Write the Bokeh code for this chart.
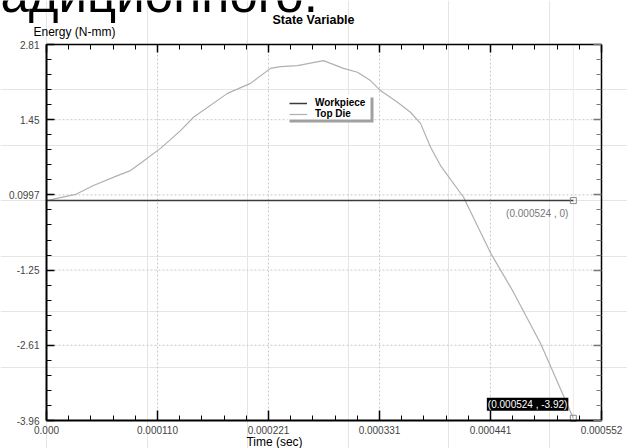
from bokeh.plotting import figure
from bokeh.models import (Range1d, LinearAxis, FixedTicker, Label, Legend,
                          LegendItem, BoxAnnotation)
from bokeh.embed import file_html
from bokeh.resources import INLINE

# ---------------- data ----------------
top_die_t = [0.0, 2.88e-5, 4.67e-5, 7.06e-5, 8.35e-5, 9.35e-5, 1.134e-4,
             1.333e-4, 1.462e-4, 1.80e-4, 2.029e-4, 2.228e-4, 2.327e-4,
             2.496e-4, 2.755e-4, 2.954e-4, 3.093e-4, 3.222e-4, 3.322e-4,
             3.491e-4, 3.62e-4, 3.72e-4, 3.82e-4, 3.919e-4, 4.148e-4,
             4.416e-4, 4.635e-4, 4.913e-4, 5.24e-4]
top_die_e = [0.0, 0.11, 0.27, 0.45, 0.54, 0.67, 0.94,
             1.26, 1.50, 1.93, 2.11, 2.38, 2.41,
             2.43, 2.52, 2.38, 2.31, 2.16, 1.98,
             1.77, 1.59, 1.39, 0.96, 0.63, 0.06,
             -0.94, -1.62, -2.57, -3.92]
workpiece_t = [0.0, 0.000524]
workpiece_e = [0.0, 0.0]
marker_t = [0.000524, 0.000524]
marker_e = [0.0, -3.92]
marker_text = ["(0.000524 , 0)", "(0.000524 , -3.92)"]

x_ticks = [0.0, 0.0001104, 0.0002208, 0.0003312, 0.0004416, 0.000552]
x_tick_labels = ["0.000", "0.000110", "0.000221", "0.000331", "0.000441", "0.000552"]
y_ticks = [2.81, 1.456, 0.102, -1.252, -2.606, -3.96]
y_tick_labels = ["2.81", "1.45", "0.0997", "-1.25", "-2.61", "-3.96"]

title_text = "State Variable"
y_title = "Energy (N-mm)"
x_title = "Time (sec)"
page_text = "адиционного."

# ---------------- layout ----------------
W, H = 627, 448
L, R, T, B = 46, 26, 44, 28          # plot-area edges inside the canvas
X0, X1 = 0.0, 0.000552
Y0, Y1 = -3.96, 2.81
FONT = "Liberation Sans"


def tx(px):
    return X0 + (px - L) / (W - L - R) * (X1 - X0)


def ey(py):
    return Y1 - (py - T) / (H - T - B) * (Y1 - Y0)


def minor(ticks, n=5):
    t = sorted(ticks)
    out = []
    for a, b in zip(t[:-1], t[1:]):
        for k in range(1, n):
            out.append(a + (b - a) * k / n)
    return out


p = figure(width=W, height=H, x_range=Range1d(tx(0), tx(W)),
           y_range=Range1d(ey(H), ey(0)),
           output_backend="svg", toolbar_location=None,
           x_axis_location=None, y_axis_location=None,
           min_border=0, min_border_left=0, min_border_right=0,
           min_border_top=0, min_border_bottom=0)
p.outline_line_color = None
p.background_fill_color = "white"
p.border_fill_color = "white"

xt = FixedTicker(ticks=x_ticks, minor_ticks=minor(x_ticks))
yt = FixedTicker(ticks=y_ticks, minor_ticks=minor(y_ticks))


def style_axis(ax, width, color, standoff):
    ax.axis_line_width = width
    ax.axis_line_color = color
    ax.major_tick_in = 8
    ax.major_tick_out = 0
    ax.minor_tick_in = 5
    ax.minor_tick_out = 0
    ax.major_tick_line_color = color
    ax.minor_tick_line_color = color
    ax.major_tick_line_width = 1.5
    ax.minor_tick_line_width = 1
    ax.major_label_standoff = standoff
    ax.major_label_text_font = FONT
    ax.major_label_text_font_size = "10px"
    ax.major_label_text_color = "#444444"


# plot-area grid (dashed), drawn from the tick arrays
p.segment(x0=x_ticks, y0=[Y0] * len(x_ticks), x1=x_ticks, y1=[Y1] * len(x_ticks),
          line_color="#c8c8c8", line_dash="2 2", line_width=1)
p.segment(x0=[X0] * len(y_ticks), y0=y_ticks, x1=[X1] * len(y_ticks), y1=y_ticks,
          line_color="#c8c8c8", line_dash="2 2", line_width=1)
p.segment(x0=[marker_t[0]], y0=[Y0], x1=[marker_t[0]], y1=[Y1],
          line_color="#ececec", line_width=1)

bottom = LinearAxis(ticker=xt, fixed_location=Y0, bounds=(X0, X1),
                    major_label_overrides=dict(zip(x_ticks, x_tick_labels)))
style_axis(bottom, 2, "black", 5)
bottom.major_tick_in = 10
left = LinearAxis(ticker=yt, fixed_location=X0, bounds=(Y0, Y1),
                  major_label_overrides=dict(zip(y_ticks, y_tick_labels)))
style_axis(left, 2, "black", 7)
top = LinearAxis(ticker=xt, fixed_location=Y1, bounds=(X0, X1),
                 major_label_overrides={t: "" for t in x_ticks})
style_axis(top, 1.5, "black", 0)
right = LinearAxis(ticker=yt, fixed_location=X1, bounds=(Y0, Y1),
                   major_label_overrides={t: "" for t in y_ticks})
style_axis(right, 1.5, "black", 0)
right.major_tick_line_color = "#777777"
right.minor_tick_line_color = "#777777"
p.add_layout(bottom, "below")
p.add_layout(left, "left")
p.add_layout(top, "above")
p.add_layout(right, "right")

r_td = p.line(top_die_t, top_die_e, line_color="#b0b0b0", line_width=1.2)
r_wp = p.line(workpiece_t, workpiece_e, line_color="#3a3a3a", line_width=1.5)
p.scatter(marker_t, marker_e, marker="square", size=6, line_color="#8a8a8a",
          fill_color=None, line_width=1)

# legend box with drop shadow
p.add_layout(BoxAnnotation(left=tx(289), right=tx(373), top=ey(97), bottom=ey(122),
                           fill_color="#a0a0a0", fill_alpha=1, line_color=None))
p.add_layout(BoxAnnotation(left=tx(286), right=tx(370), top=ey(94), bottom=ey(119),
                           fill_color="white", fill_alpha=1, line_color=None))
legend = Legend(items=[LegendItem(label="Workpiece", renderers=[r_wp]),
                       LegendItem(label="Top Die", renderers=[r_td])],
                location=(289, H - 119), padding=3, margin=0, spacing=0,
                label_height=10, glyph_height=10, glyph_width=18,
                label_standoff=8, border_line_color=None,
                background_fill_color="white", background_fill_alpha=0,
                label_text_font=FONT, label_text_font_size="10px",
                label_text_font_style="bold", label_text_color="black")
p.add_layout(legend)

# point annotations
p.add_layout(Label(x=marker_t[0], y=marker_e[0], text=marker_text[0],
                   x_offset=-5, y_offset=-13, text_align="right",
                   text_baseline="middle", text_color="#777777",
                   text_font=FONT, text_font_size="10px"))
p.add_layout(Label(x=marker_t[1], y=marker_e[1], text=marker_text[1],
                   x_offset=-5, y_offset=14, text_align="right",
                   text_baseline="middle", text_color="white",
                   background_fill_color="black", padding=1,
                   text_font=FONT, text_font_size="10px"))

# titles
p.add_layout(Label(x=tx(313), y=ey(19), text=title_text, text_align="center",
                   text_baseline="middle", text_font=FONT, text_font_size="12.5px",
                   text_font_style="bold", text_color="black"))
p.add_layout(Label(x=tx(33), y=ey(31), text=y_title, text_align="left",
                   text_baseline="middle", text_font=FONT, text_font_size="12px",
                   text_color="black"))
p.add_layout(Label(x=tx(274), y=ey(441), text=x_title, text_align="center",
                   text_baseline="middle", text_font=FONT, text_font_size="12px",
                   text_color="black"))
p.add_layout(Label(x=tx(0), y=ey(-6), text=page_text, text_align="left",
                   text_baseline="alphabetic", text_font=FONT, text_font_size="51px",
                   text_color="black"))

open("out.html", "w").write(file_html(p, INLINE))
